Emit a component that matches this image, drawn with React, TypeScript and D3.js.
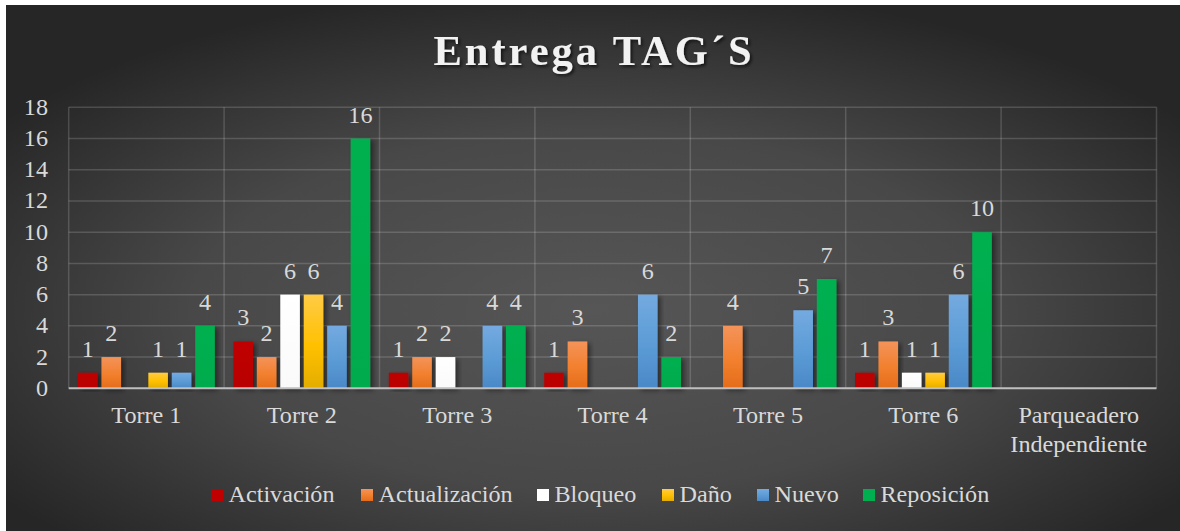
import React from "react";
import * as d3 from "d3";

const categories = ["Torre 1", "Torre 2", "Torre 3", "Torre 4", "Torre 5", "Torre 6", "Parqueadero\nIndependiente"];
const seriesNames = ["Activación", "Actualización", "Bloqueo", "Daño", "Nuevo", "Reposición"];
const activacion: (number | null)[] = [1, 3, 1, 1, null, 1, null];
const actualizacion: (number | null)[] = [2, 2, 2, 3, 4, 3, null];
const bloqueo: (number | null)[] = [null, 6, 2, null, null, 1, null];
const dano: (number | null)[] = [1, 6, null, null, null, 1, null];
const nuevo: (number | null)[] = [1, 4, 4, 6, 5, 6, null];
const reposicion: (number | null)[] = [4, 16, 4, 2, 7, 10, null];
const yTicks = [0, 2, 4, 6, 8, 10, 12, 14, 16, 18];

const seriesValues = [activacion, actualizacion, bloqueo, dano, nuevo, reposicion];
const seriesFill = ["url(#gRed)", "url(#gOrange)", "url(#gWhite)", "url(#gYellow)", "url(#gBlue)", "url(#gGreen)"];
const legendFill = ["#c00000", "url(#gOrange)", "#ffffff", "url(#gYellow)", "url(#gBlue)", "#00b050"];

const W = 1180, H = 531;
const plot = { left: 68.7, right: 1156.5, top: 107.3, bottom: 388.3 };
const serif = "'Liberation Serif', 'Times New Roman', serif";
const textColor = "#d9d9d9";
const FS = 22.6;
const SX = 1.07;

function Txt({ x, y, anchor = "start", children }: { x: number; y: number; anchor?: string; children: React.ReactNode }) {
  return (
    <text transform={`translate(${x},${y}) scale(${SX},1)`} textAnchor={anchor} fontSize={FS} fill={textColor}>
      {children}
    </text>
  );
}

export default function App() {
  const x = d3.scaleBand<string>().domain(categories).range([plot.left, plot.right]).paddingInner(0).paddingOuter(0);
  const catW = x.bandwidth();
  const inner = d3.scaleBand<string>().domain(seriesNames).range([9.3, catW - 9.3]).paddingInner(0.165).paddingOuter(0);
  const y = d3.scaleLinear().domain([0, 18]).range([plot.bottom, plot.top]);

  const legendX = [211, 361, 537, 662, 757, 863];

  return (
    <svg width={W} height={H} style={{ position: "absolute", left: 0, top: 0 }} fontFamily={serif}>
      <defs>
        <radialGradient id="bg" cx="50%" cy="58%" r="62%" gradientUnits="objectBoundingBox">
          <stop offset="0%" stopColor="#565656" />
          <stop offset="55%" stopColor="#484848" />
          <stop offset="100%" stopColor="#262626" />
        </radialGradient>
        <linearGradient id="gRed" x1="0" y1="0" x2="0" y2="1">
          <stop offset="0%" stopColor="#c00000" />
          <stop offset="100%" stopColor="#b80000" />
        </linearGradient>
        <linearGradient id="gOrange" x1="0" y1="0" x2="0" y2="1">
          <stop offset="0%" stopColor="#f4935a" />
          <stop offset="55%" stopColor="#f2802e" />
          <stop offset="100%" stopColor="#e46c1a" />
        </linearGradient>
        <linearGradient id="gWhite" x1="0" y1="0" x2="0" y2="1">
          <stop offset="0%" stopColor="#ffffff" />
          <stop offset="100%" stopColor="#fafafa" />
        </linearGradient>
        <linearGradient id="gYellow" x1="0" y1="0" x2="0" y2="1">
          <stop offset="0%" stopColor="#ffcb45" />
          <stop offset="55%" stopColor="#ffc000" />
          <stop offset="100%" stopColor="#e3ad00" />
        </linearGradient>
        <linearGradient id="gBlue" x1="0" y1="0" x2="0" y2="1">
          <stop offset="0%" stopColor="#74aae0" />
          <stop offset="55%" stopColor="#5b9bd5" />
          <stop offset="100%" stopColor="#4a88c7" />
        </linearGradient>
        <linearGradient id="gGreen" x1="0" y1="0" x2="0" y2="1">
          <stop offset="0%" stopColor="#00b050" />
          <stop offset="100%" stopColor="#00ab4d" />
        </linearGradient>
        <filter id="shadow" x="-30%" y="-10%" width="160%" height="130%">
          <feDropShadow dx="3" dy="2" stdDeviation="2.5" floodColor="#000" floodOpacity="0.45" />
        </filter>
        <filter id="tshadow" x="-10%" y="-20%" width="120%" height="150%">
          <feDropShadow dx="2" dy="2" stdDeviation="1.5" floodColor="#000" floodOpacity="0.6" />
        </filter>
      </defs>

      <rect x={0} y={0} width={W} height={H} fill="#ffffff" />
      <rect x={6} y={5} width={W - 6} height={H - 5} fill="url(#bg)" />

      <text x={594} y={65} textAnchor="middle" fontSize={42.5} fontWeight="bold" fill="#f2f2f2" letterSpacing={3} filter="url(#tshadow)">
        Entrega TAG´S
      </text>

      {yTicks.map((t) => (
        <line key={"h" + t} x1={plot.left} x2={plot.right} y1={y(t)} y2={y(t)} stroke="#ffffff" strokeOpacity={t === 0 ? 0 : 0.16} strokeWidth={1.5} />
      ))}
      {categories.map((c) => (
        <line key={"v" + c} x1={x(c)!} x2={x(c)!} y1={plot.top} y2={plot.bottom} stroke="#ffffff" strokeOpacity={0.16} strokeWidth={1.5} />
      ))}
      <line x1={plot.right} x2={plot.right} y1={plot.top} y2={plot.bottom} stroke="#ffffff" strokeOpacity={0.16} strokeWidth={1.5} />

      {yTicks.map((t) => (
        <Txt key={"yt" + t} x={48} y={y(t) + 7.5} anchor="end">
          {t}
        </Txt>
      ))}

      {categories.map((c) => (
        <g key={"c" + c}>
          {seriesValues.map((vals, si) => {
            const v = vals[categories.indexOf(c)];
            if (v == null) return null;
            const bx = x(c)! + inner(seriesNames[si])!;
            return (
              <rect key={si} x={bx} y={y(v)} width={inner.bandwidth()} height={y(0) - y(v)} fill={seriesFill[si]} filter="url(#shadow)" />
            );
          })}
        </g>
      ))}

      <line x1={plot.left} x2={plot.right} y1={plot.bottom} y2={plot.bottom} stroke="#bfbfbf" strokeWidth={2} />

      {categories.map((c) => (
        <g key={"l" + c}>
          {seriesValues.map((vals, si) => {
            const v = vals[categories.indexOf(c)];
            if (v == null) return null;
            const cx = x(c)! + inner(seriesNames[si])! + inner.bandwidth() / 2;
            return (
              <Txt key={si} x={cx} y={y(v) - 16} anchor="middle">
                {v}
              </Txt>
            );
          })}
        </g>
      ))}

      {categories.map((c) => {
        const lines = c.split("\n");
        return (
          <g key={"xl" + c}>
            {lines.map((ln, i) => (
              <Txt key={i} x={x(c)! + catW / 2} y={423 + i * 29} anchor="middle">
                {ln}
              </Txt>
            ))}
          </g>
        );
      })}

      {seriesNames.map((s, i) => (
        <g key={"lg" + s}>
          <rect x={legendX[i]} y={489} width={12} height={12} fill={legendFill[i]} />
          <Txt x={legendX[i] + 17.5} y={502}>
            {s}
          </Txt>
        </g>
      ))}
    </svg>
  );
}
